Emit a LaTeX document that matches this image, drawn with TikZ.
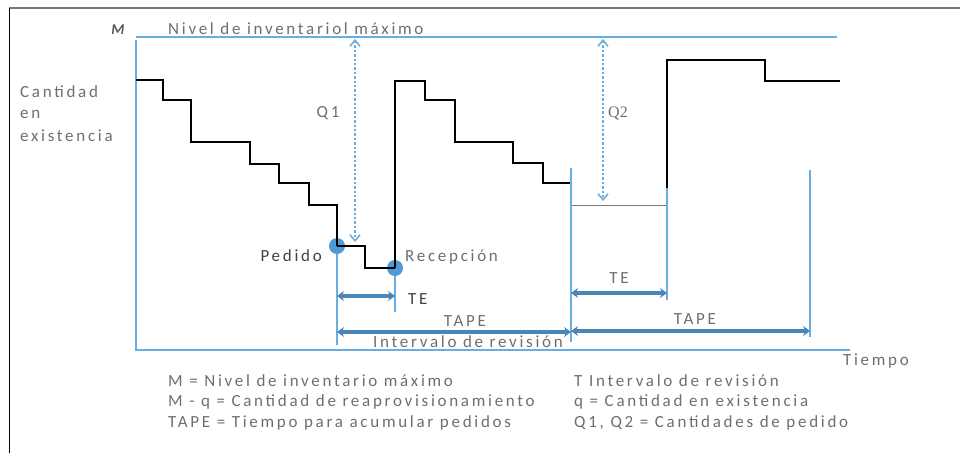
\documentclass[tikz,border=0pt]{standalone}
\usepackage{fontspec}
\setmainfont{Carlito}
\newfontfamily\wide[LetterSpace=16]{Carlito}
\newfontfamily\qserif{Liberation Serif}
\usetikzlibrary{arrows.meta}
\definecolor{axisblue}{RGB}{104,174,226}
\definecolor{barblue}{RGB}{74,134,186}
\definecolor{dotblue}{RGB}{80,152,214}
\definecolor{txtgray}{RGB}{110,110,110}
\definecolor{framegray}{RGB}{120,120,120}
\begin{document}
\begin{tikzpicture}[x=1pt,y=-1pt,
  lbl/.style={inner sep=0pt, text=txtgray, font=\wide\fontsize{17}{19}\selectfont},
  axisline/.style={draw=axisblue, line width=2pt},
  guide/.style={draw=axisblue, line width=2.2pt},
  stock/.style={draw=black, line width=1.2pt},
  qarrow/.style={draw=axisblue, line width=2.4pt, dotted, {Straight Barb[length=6pt,width=10pt,line width=1.6pt]}-{Straight Barb[length=6pt,width=10pt,line width=1.6pt]}},
  span/.style={draw=barblue, line width=4pt, {Stealth[length=7pt,width=10pt]}-{Stealth[length=7pt,width=10pt]}},
  event/.style={circle, fill=dotblue, minimum size=16pt, inner sep=0pt}]
\useasboundingbox (0,0) rectangle (963,453);

% frame
\draw[framegray, line width=1.5pt] (9,8) -- (960,8);
\draw[black, line width=1pt] (9,8) -- (9,453);

% axes and maximum level
\coordinate (o) at (136,350);
\coordinate (ytop) at (136,40);
\coordinate (xend) at (850,350);
\coordinate (mleft) at (136,37);
\coordinate (mright) at (837,37);
\draw[axisline] (ytop) -- (o) -- (xend);
\draw[axisline] (mleft) -- (mright);

\node[lbl, text=txtgray!80!black, font=\wide\fontsize{15}{16}\selectfont\itshape\bfseries] (mlab) at (118,30) {M};
\node[lbl, anchor=west] (mtext) at (168,29) {Nivel de inventariol máximo};

\node[lbl, anchor=west] (yl1) at (20,92) {Cantidad};
\node[lbl, anchor=west] (yl2) at (20,114) {en};
\node[lbl, anchor=west] (yl3) at (20,136) {existencia};

% order / reception events
\node[event] (pedido) at (337,246) {};
\node[event] (recep) at (395,268) {};
\node[lbl, anchor=east, text=black!75] (pedlab) at (322,256) {Pedido};
\node[lbl, anchor=west] (reclab) at (405,257) {Recepción};

% first stock cycle
\draw[stock] (136,80) -- (163,80) -- (163,100) -- (191,100) -- (191,142)
  -- (250,142) -- (250,164) -- (279,164) -- (279,183) -- (309,183)
  -- (309,205) -- (337,205) -- (pedido.center);
\draw[stock] (pedido.center) -- (365,246) -- (365,268) -- (recep.center);
% second stock cycle
\draw[stock] (recep.center) -- (395,81) -- (425,81) -- (425,100) -- (455,100)
  -- (455,142) -- (513,142) -- (513,163) -- (543,163) -- (543,183) -- (571,183);
% third stock cycle
\coordinate (r2low) at (667,205);
\draw[stock] (667,190) -- (667,60) -- (765,60) -- (765,81) -- (840,81);
\draw[framegray, line width=0.8pt] (571,205) -- (r2low);

% order quantities
\coordinate (q1top) at (355,39);
\coordinate (q1bot) at (355,242);
\coordinate (q2top) at (603,39);
\coordinate (q2bot) at (603,201);
\draw[qarrow] (q1top) -- (q1bot);
\draw[qarrow] (q2top) -- (q2bot);
\node[lbl] (q1) at (328,113) {Q1};
\node[lbl, font=\qserif\fontsize{16}{18}\selectfont] (q2) at (618,113) {Q2};

% review and lead-time guides
\coordinate (g1b) at (337,345);
\coordinate (g2b) at (395,312);
\coordinate (g3t) at (571,168);
\coordinate (g3b) at (571,342);
\coordinate (g4t) at (667,188);
\coordinate (g4b) at (667,300);
\coordinate (g5t) at (810,170);
\coordinate (g5b) at (810,337);
\draw[guide] (pedido.south) -- (g1b);
\draw[guide] (recep.south) -- (g2b);
\draw[guide] (g3t) -- (g3b);
\draw[guide] (g4t) -- (g4b);
\draw[guide] (g5t) -- (g5b);

% spans
\coordinate (te1a) at (337,296);
\coordinate (te1b) at (395,296);
\coordinate (te2a) at (571,293);
\coordinate (te2b) at (667,293);
\coordinate (ta1a) at (337,332);
\coordinate (ta1b) at (571,332);
\coordinate (ta2a) at (571,331);
\coordinate (ta2b) at (810,331);
\draw[span] (te1a) -- (te1b);
\draw[span] (te2a) -- (te2b);
\draw[span] (ta1a) -- (ta1b);
\draw[span] (ta2a) -- (ta2b);

\node[lbl, anchor=west, text=black!75] (te1) at (408,299) {TE};
\node[lbl] (te2) at (619,278) {TE};
\node[lbl] (tape1) at (465,321) {TAPE};
\node[lbl] (tape2) at (695,319) {TAPE};
\node[lbl] (rev) at (468,342) {Intervalo de revisión};
\node[lbl] (tiempo) at (876,361) {Tiempo};

% legend
\node[lbl, anchor=west] (lg1) at (168,381) {M = Nivel de inventario máximo};
\node[lbl, anchor=west] (lg2) at (168,402) {M - q = Cantidad de reaprovisionamiento};
\node[lbl, anchor=west] (lg3) at (168,423) {TAPE = Tiempo para acumular pedidos};
\node[lbl, anchor=west] (lg4) at (574,381) {T Intervalo de revisión};
\node[lbl, anchor=west] (lg5) at (574,402) {q = Cantidad en existencia};
\node[lbl, anchor=west] (lg6) at (574,423) {Q1, Q2 = Cantidades de pedido};
\end{tikzpicture}
\end{document}
